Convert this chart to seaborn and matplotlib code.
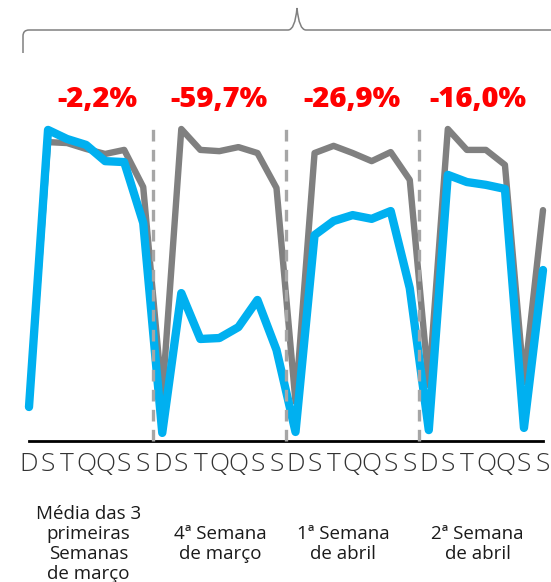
import numpy as np
import pandas as pd
import seaborn as sns
import matplotlib.pyplot as plt
from matplotlib.path import Path
from matplotlib.patches import PathPatch

days = ["D", "S", "T", "Q", "Q", "S", "S"] * 4
total = [11.5, 95.8, 95.5, 93.6, 92.0, 93.3, 81.4,
         14.1, 100.0, 93.3, 92.9, 94.2, 92.3, 81.1,
         12.5, 92.3, 94.6, 92.3, 89.7, 92.6, 83.7,
         17.9, 100.0, 93.3, 93.3, 88.5, 18.9, 74.0]
loja = [10.9, 99.7, 96.8, 94.9, 89.7, 89.4, 69.9,
        2.6, 47.4, 32.7, 33.0, 36.5, 45.2, 29.2,
        2.9, 66.0, 70.5, 72.4, 71.2, 73.7, 49.0,
        3.5, 85.3, 83.0, 82.1, 80.8, 4.2, 54.8]
variacao = ["-2,2%", "-59,7%", "-26,9%", "-16,0%"]
semanas = ["Média das 3\nprimeiras\nSemanas\nde março",
           "4ª Semana\nde março",
           "1ª Semana\nde abril",
           "2ª Semana\nde abril"]

df = pd.DataFrame({"dia": np.arange(len(days)), "total": total, "loja": loja})

sns.set_style("white")
plt.rcParams["font.family"] = ["Open Sans", "DejaVu Sans"]

fig = plt.figure(figsize=(5.51, 5.82), dpi=100)
ax = fig.add_axes([29 / 551, 1 - 441 / 582, 514 / 551, 312 / 582])

sns.lineplot(data=df, x="dia", y="total", color="#808080", linewidth=4.6, ax=ax)
sns.lineplot(data=df, x="dia", y="loja", color="#00B0F0", linewidth=6.0, ax=ax)
for ln in ax.lines:
    ln.set_clip_on(False)

ax.set_xlim(0, 27)
ax.set_ylim(0, 100)
ax.set_xlabel("")
ax.set_ylabel("")
ax.set_yticks([])
ax.set_xticks(range(len(days)))
ax.set_xticklabels(days, fontsize=19, fontweight="light", color="#333333")
ax.tick_params(axis="x", which="major", length=0, pad=8)
ax.set_xticks([6.5, 13.5, 20.5], minor=True)
ax.tick_params(axis="x", which="minor", length=29, width=2.4, color="#a6a6a6")
for s in ["top", "left", "right"]:
    ax.spines[s].set_visible(False)
ax.spines["bottom"].set_color("black")
ax.spines["bottom"].set_linewidth(2)

for xs in [6.5, 13.5, 20.5]:
    ax.plot([xs, xs], [0, 102.6], color="#a6a6a6", lw=2.4,
            ls=(0, (3.5, 2.5)), clip_on=False, zorder=5)

for xp, txt in zip([3.6, 10.0, 16.96, 23.6], variacao):
    ax.text(xp, 109.3, txt, ha="center", va="center", color="#FF0000",
            fontsize=21, fontweight="heavy", clip_on=False)

for xp, txt in zip([3.13, 10.06, 16.5, 23.57], semanas):
    ax.text(xp, -33.0, txt, ha="center", va="center", multialignment="center",
            fontsize=13.5, color="#1a1a1a", linespacing=1.15, clip_on=False)

# chave no topo
ov = fig.add_axes([0, 0, 1, 1])
ov.set_xlim(0, 551)
ov.set_ylim(582, 0)
ov.axis("off")
verts = [(23, 53), (23, 36), (23, 30), (29, 30), (288, 30), (295, 30), (297, 8),
         (299, 30), (306, 30), (551, 30)]
codes = [Path.MOVETO, Path.LINETO, Path.CURVE3, Path.CURVE3, Path.LINETO,
         Path.CURVE3, Path.CURVE3, Path.CURVE3, Path.CURVE3, Path.LINETO]
ov.add_patch(PathPatch(Path(verts, codes), fill=False, edgecolor="#808080", lw=1.1))

fig.savefig("out.png", dpi=100)
